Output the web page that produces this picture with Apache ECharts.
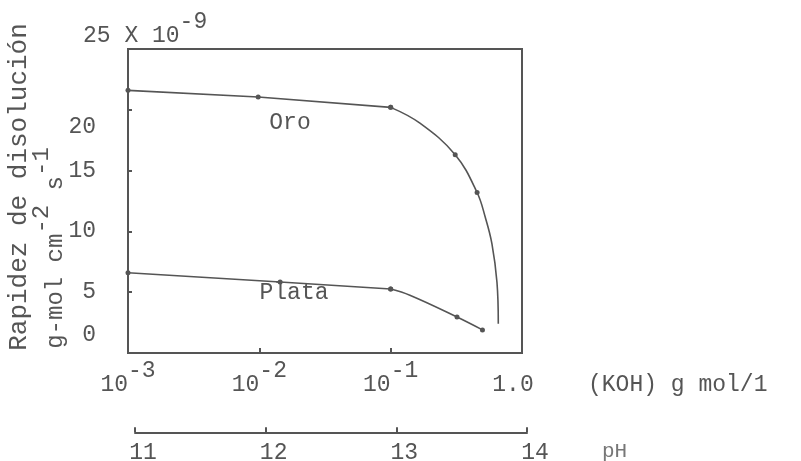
<!DOCTYPE html>
<html>
<head>
<meta charset="utf-8">
<script src="https://cdn.jsdelivr.net/npm/echarts@6/dist/echarts.min.js"></script>
<style>
  html, body { margin: 0; padding: 0; background: #fff; }
  #chart { width: 801px; height: 461px; }
</style>
</head>
<body>
<div id="chart"></div>
<script>
// KOH concentration (g mol/l) and dissolution rate (x 10^-9 g-mol cm^-2 s^-1)
// straight stretch up to 10^-1, then the curved fall-off
const oroKoh       = [0.001, 0.0098, 0.1];
const oroRate      = [21.6,  21.05,  20.2];
const oroCurveKoh  = [0.1,  0.167, 0.31, 0.455, 0.524, 0.59, 0.645, 0.66];
const oroCurveRate = [20.2, 18.9,  16.3, 13.2,  11.2,  9.0,  5.8,   2.4];
const oroCurveMark = [true, false, true, true,  false, false, false, false];

const plataKoh       = [0.001, 0.0144, 0.1];
const plataRate      = [6.6,   5.84,   5.26];
const plataCurveKoh  = [0.1,  0.14, 0.32, 0.50];
const plataCurveRate = [5.26, 4.75, 2.96, 1.9];
const plataCurveMark = [true, false, true, true];

const phTicks = [11, 12, 13, 14];

const INK = '#555';
const FONT = '"Liberation Mono", "DejaVu Sans Mono", monospace';
const SUP = 14; // raise for superscripts

function pts(xs, ys, marked) {
    return xs.map((x, i) => ({
        value: [x, ys[i]],
        symbolSize: (!marked || marked[i]) ? 5 : 0
    }));
}

function richSet(size) {
    return {
        b: { fontFamily: FONT, fontSize: size, color: INK, fill: INK, lineHeight: size, verticalAlign: 'bottom' },
        s: { fontFamily: FONT, fontSize: size, color: INK, fill: INK, lineHeight: size, verticalAlign: 'bottom', padding: [0, 0, SUP, 0] }
    };
}

function lineSeries(name, xs, ys, marked, smooth) {
    return {
        name: name,
        type: 'line',
        smooth: smooth,
        symbol: 'circle',
        showSymbol: true,
        lineStyle: { color: INK, width: 1.6 },
        itemStyle: { color: INK },
        data: pts(xs, ys, marked)
    };
}

const chart = echarts.init(document.getElementById('chart'), null, { renderer: 'canvas' });

const yRich = {
    n: { fontFamily: FONT, fontSize: 23, color: INK },
    dn: { fontFamily: FONT, fontSize: 23, color: INK, padding: [34, 0, 0, 0] },
    up: { fontFamily: FONT, fontSize: 23, color: INK, padding: [0, 0, 36, 0] }
};

const xRich = Object.assign(richSet(23), {
    one: { fontFamily: FONT, fontSize: 23, color: INK, lineHeight: 23, verticalAlign: 'bottom', padding: [0, 18, 0, 0] }
});

chart.setOption({
    backgroundColor: '#fff',
    animation: false,
    grid: [
        { left: 128, right: 279, top: 49, bottom: 108, show: true, borderColor: INK, borderWidth: 2 },
        { left: 135, right: 274, top: 432, height: 1 }
    ],
    xAxis: [
        {
            type: 'log',
            logBase: 10,
            min: 0.001,
            max: 1,
            gridIndex: 0,
            axisLine: { lineStyle: { color: INK, width: 2 } },
            axisTick: { inside: true, length: 5, lineStyle: { color: INK, width: 2 } },
            minorTick: { show: false },
            splitLine: { show: false },
            axisLabel: {
                margin: 20,
                formatter: function (v) {
                    const e = Math.round(Math.log10(v));
                    if (e === 0) return '{one|1.0}';
                    return '{b|10}{s|' + e + '}';
                },
                rich: xRich
            },
            name: '(KOH) g mol/1',
            nameLocation: 'end',
            nameGap: 66,
            nameTextStyle: { fontFamily: FONT, fontSize: 23, color: INK, align: 'left', verticalAlign: 'top', lineHeight: 23, padding: [20, 0, 0, 0] }
        },
        {
            type: 'value',
            gridIndex: 1,
            min: 11,
            max: 14,
            interval: 1,
            position: 'bottom',
            axisLine: { lineStyle: { color: INK, width: 2 } },
            axisTick: { inside: true, length: 5, lineStyle: { color: INK, width: 2 } },
            splitLine: { show: false },
            axisLabel: {
                margin: 9,
                formatter: function (v) { return phTicks.indexOf(v) >= 0 ? '{p|' + v + '}' : ''; },
                rich: { p: { fontFamily: FONT, fontSize: 23, color: INK, padding: [0, 0, 0, 16] } }
            },
            name: 'pH',
            nameLocation: 'end',
            nameGap: 75,
            nameTextStyle: { fontFamily: FONT, fontSize: 21, color: '#777', align: 'left', verticalAlign: 'top', lineHeight: 21, padding: [9, 0, 0, 0] }
        }
    ],
    yAxis: [
        {
            type: 'value',
            gridIndex: 0,
            min: 0,
            max: 25,
            interval: 5,
            axisLine: { lineStyle: { color: INK, width: 2 } },
            axisTick: { inside: true, length: 4, lineStyle: { color: INK, width: 2 } },
            splitLine: { show: false },
            axisLabel: {
                margin: 32,
                formatter: function (v) {
                    if (v === 25) return '';
                    if (v === 20) return '{dn|20}';
                    if (v === 0) return '{up|0}';
                    return '{n|' + v + '}';
                },
                rich: yRich
            }
        },
        { type: 'value', gridIndex: 1, min: 0, max: 1, show: false }
    ],
    graphic: [
        {
            type: 'text', left: 83, top: 10,
            style: { text: '{b|25 X 10}{s|-9}', rich: richSet(23), fill: INK }
        },
        {
            type: 'text', x: 19, y: 187, rotation: Math.PI / 2,
            style: { text: 'Rapidez de disolución', font: '26px ' + FONT, fill: INK, textAlign: 'center', textVerticalAlign: 'middle' }
        },
        {
            type: 'text', x: 56, y: 248, rotation: Math.PI / 2,
            style: { text: '{b|g-mol cm}{s|-2}{b| s}{s|-1}', rich: richSet(24), fill: INK, textAlign: 'center', textVerticalAlign: 'middle' }
        },
        {
            type: 'text', x: 290, y: 123,
            style: { text: 'Oro', font: '23px ' + FONT, fill: INK, textAlign: 'center', textVerticalAlign: 'middle' }
        },
        {
            type: 'text', x: 294, y: 293,
            style: { text: 'Plata', font: '23px ' + FONT, fill: INK, textAlign: 'center', textVerticalAlign: 'middle' }
        }
    ],
    series: [
        lineSeries('Oro', oroKoh, oroRate, null, false),
        lineSeries('Oro', oroCurveKoh, oroCurveRate, oroCurveMark, 0.4),
        lineSeries('Plata', plataKoh, plataRate, null, false),
        lineSeries('Plata', plataCurveKoh, plataCurveRate, plataCurveMark, 0.4)
    ]
});
</script>
</body>
</html>
